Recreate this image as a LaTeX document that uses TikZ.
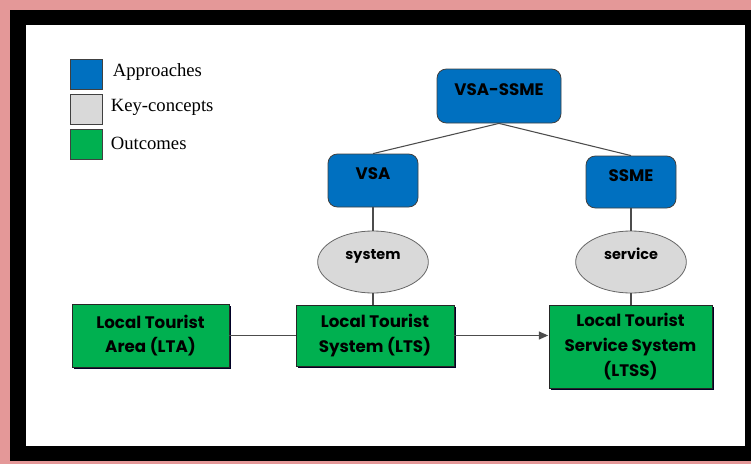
\documentclass[tikz,border=0pt]{standalone}
\usepackage{fontspec}
\setmainfont{Liberation Serif}
\newfontfamily\boxfont{Poppins}
\usetikzlibrary{shapes.geometric,shadows,arrows.meta}

\definecolor{apblue}{RGB}{0,112,192}
\definecolor{kcgray}{RGB}{217,217,217}
\definecolor{ocgreen}{RGB}{0,176,80}
\definecolor{framepink}{RGB}{228,152,152}

\tikzset{
  approach/.style={rectangle,rounded corners=7pt,draw=black!75,fill=apblue,inner sep=0pt,
    text height=9pt,text depth=10.5pt,font=\boxfont\bfseries\fontsize{12.5}{15}\selectfont},
  concept/.style={ellipse,draw=black!60,fill=kcgray,inner sep=0pt,text height=6pt,text depth=10pt,
    minimum width=83pt,minimum height=46.5pt,font=\boxfont\bfseries\fontsize{10.8}{13}\selectfont},
  outcome/.style={rectangle,draw=black!85,fill=ocgreen,align=center,inner sep=0pt,
    font=\boxfont\bfseries\fontsize{12.5}{18.5}\selectfont,
    drop shadow={shadow xshift=1.5pt,shadow yshift=-1.5pt,fill=black!85!blue,opacity=1}},
  legbox/.style={rectangle,draw=black!75,inner sep=0pt,minimum width=24pt,minimum height=22.5pt},
  link/.style={draw=black!70,line width=.8pt}
}

\begin{document}
\begin{tikzpicture}[x=.75pt,y=-.75pt,line width=.6pt]
\useasboundingbox (0,0) rectangle (751,464);
% frame
\fill[framepink] (0,0) rectangle (751,464);
\fill[black] (10,10) rectangle (751,461);
\fill[white] (26,25) rectangle (745,446);

% legend
\node[legbox,fill=apblue] (apkey) at (86,74) {};
\node[legbox,fill=kcgray] (kckey) at (86,109) {};
\node[legbox,fill=ocgreen] (ockey) at (86,144) {};
\node[anchor=west,font=\fontsize{14}{16}\selectfont] (aptext) at (108,72) {Approaches};
\node[anchor=west,font=\fontsize{14}{16}\selectfont] (kctext) at (106,107) {Key-concepts};
\node[anchor=west,font=\fontsize{14}{16}\selectfont] (octext) at (106,143) {Outcomes};

% approaches
\node[approach,minimum width=93pt,minimum height=40.5pt] (vsassme) at (499,96) {VSA-SSME};
\node[approach,minimum width=67.5pt,minimum height=39.75pt] (vsa) at (373,180.5) {VSA};
\node[approach,minimum width=67.5pt,minimum height=39pt] (ssme) at (631,182) {SSME};

% key-concepts
\node[concept] (system) at (373,262) {system};
\node[concept] (service) at (631,262) {service};

% outcomes
\node[outcome,minimum width=117.75pt,minimum height=47.25pt] (lta) at (150.5,335.5) {Local Tourist\\Area (LTA)};
\node[outcome,minimum width=118.5pt,minimum height=45.75pt] (lts) at (375,335.5) {Local Tourist\\System (LTS)};
\node[outcome,minimum width=122.25pt,minimum height=62.25pt] (ltss) at (630.5,346.5) {Local Tourist\\Service System\\(LTSS)};

% connectors
\draw[link] (vsassme.south) -- (vsa.north);
\draw[link] (vsassme.south) -- (ssme.north);
\draw[link] (vsa) -- (system);
\draw[link] (ssme) -- (service);
\draw[link] (system.south) -- (system.south |- lts.north);
\draw[link] (service.south) -- (service.south |- ltss.north);
\draw[link] (lta) -- (lts);
\draw[link,-{Triangle[length=7pt,width=6pt]},shorten >=.3pt] (lts.east) -- (lts.east -| ltss.west);
\end{tikzpicture}
\end{document}
